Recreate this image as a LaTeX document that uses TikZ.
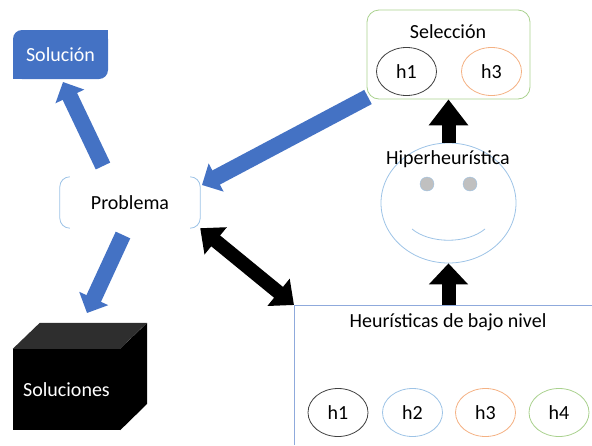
\documentclass[tikz,border=0pt]{standalone}
\usepackage{fontspec}
\setmainfont{Carlito}
\usetikzlibrary{arrows.meta,shapes.geometric,positioning}

\definecolor{officeblue}{HTML}{4472C4}
\definecolor{lightblue}{HTML}{9DC3E6}
\definecolor{frameblue}{HTML}{8FAADC}
\definecolor{softgreen}{HTML}{A9D18E}
\definecolor{softorange}{HTML}{F4B183}
\definecolor{hgray}{HTML}{404040}
\definecolor{eyegray}{HTML}{C0C0C0}
\definecolor{lidgray}{HTML}{2E2E2E}

\tikzset{
  solbox/.style={
    fill=officeblue,text=white,rounded corners=9pt,
    minimum width=95pt,minimum height=49pt,inner sep=0pt,
  },
  selbox/.style={
    draw=softgreen,rounded corners=12pt,line width=0.8pt,
    minimum width=163pt,minimum height=89pt,
  },
  heur/.style={
    draw,ellipse,line width=0.8pt,inner sep=0pt,
    minimum width=60pt,minimum height=48pt,
  },
  face/.style={
    draw=lightblue,ellipse,line width=0.8pt,
    minimum width=135pt,minimum height=120pt,
  },
  eye/.style={
    draw=lightblue,fill=eyegray,circle,minimum size=14pt,inner sep=0pt,
  },
  cubefront/.style={
    fill=black,text=white,minimum width=107pt,minimum height=81pt,inner sep=0pt,
  },
  bluearrow/.style={
    draw=officeblue,line width=16pt,-{Triangle[width=31pt,length=16pt]},
  },
  blackarrow/.style={
    draw=black,line width=14pt,
  }
}

\begin{document}
\begin{tikzpicture}[x=1pt,y=1pt,font=\fontsize{20}{24}\selectfont]
    \useasboundingbox (0,0) rectangle (592,-445);

    \node[solbox] (sol) at (60.5,-54.5) {Solución};
    \fill[officeblue] (sol.north east) rectangle ++(-12,-12);
    \fill[officeblue] (sol.south west) rectangle ++(12,12);

    \node[minimum width=140pt,minimum height=51pt] (prob) at (130,-202.5) {Problema};
    \draw[lightblue,line width=0.8pt,rounded corners=10pt]
      ([xshift=10pt]prob.north west) -- (prob.north west) -- (prob.south west) -- ([xshift=10pt]prob.south west);
    \draw[lightblue,line width=0.8pt,rounded corners=10pt]
      ([xshift=-10pt]prob.north east) -- (prob.north east) -- (prob.south east) -- ([xshift=-10pt]prob.south east);

    \node[cubefront] (sols) at (66.5,-389.5) {Soluciones};
    \fill[lidgray] (sols.north west) -- ++(27,26) -- ++(107,0) -- (sols.north east) -- cycle;
    \fill[black] (sols.north east) -- ++(27,26) -- ++(0,-81) -- (sols.south east) -- cycle;

    \node[selbox] (sel) at (448.5,-54.5) {};
    \node (seltitle) at (448,-32) {Selección};
    \node[heur,draw=hgray]      (s1) at (406.5,-71.5) {h1};
    \node[heur,draw=softorange] (s3) at (491.5,-71.5) {h3};

    \node[face] (face) at (448.5,-203) {};
    \node[eye] (eyeL) at (427,-184) {};
    \node[eye] (eyeR) at (470,-184) {};
    \draw[lightblue,line width=0.8pt] (412,-229) .. controls (430,-244) and (467,-244) .. (485,-229);
    \node (hyper) at (448,-159) {Hiperheurística};

    \coordinate (lowcorner) at (294,-305);
    \coordinate (lowtop) at (face |- lowcorner);
    \draw[frameblue,line width=0.8pt] (lowcorner |- 0,-445) -- (lowcorner) -- (lowcorner -| 592,0);
    \node (lowtitle) at (448,-322) {Heurísticas de bajo nivel};
    \node[heur,draw=hgray]      (h1) at (338,-412.5)   {h1};
    \node[heur,draw=lightblue]  (h2) at (412.5,-412.5) {h2};
    \node[heur,draw=softorange] (h3) at (485.5,-412.5) {h3};
    \node[heur,draw=softgreen]  (h4) at (559,-412.5)   {h4};

    \coordinate (upTail)   at (103,-166);
    \coordinate (upTip)    at (63,-82);
    \coordinate (selTail)  at (368,-97);
    \coordinate (selTip)   at (202,-185);
    \coordinate (downTail) at (123,-235);
    \coordinate (downTip)  at (87,-313);

    \draw[bluearrow] (upTail) -- (upTip);
    \draw[bluearrow] (selTail) -- (selTip);
    \draw[bluearrow] (downTail) -- (downTip);

    \draw[blackarrow,{Triangle[width=34pt,length=20pt]}-{Triangle[width=34pt,length=20pt]}]
      (prob.south east) -- (lowcorner);
    \draw[blackarrow,-{Triangle[width=38pt,length=26pt]}] (face.north) -- (sel.south);
    \draw[blackarrow,-{Triangle[width=38pt,length=21pt]}] (lowtop) -- (face.south);
\end{tikzpicture}
\end{document}
